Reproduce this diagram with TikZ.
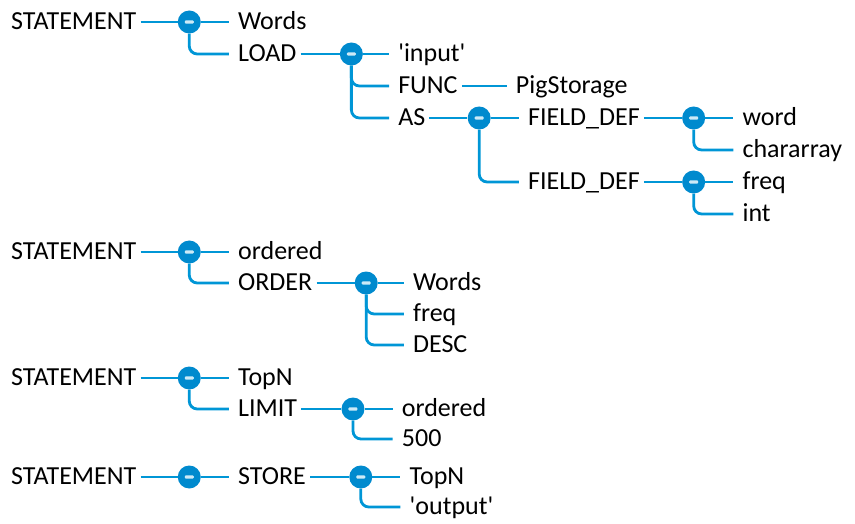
\documentclass[tikz,border=0pt]{standalone}
\usepackage{fontspec}
\setmainfont{Carlito}
\usetikzlibrary{positioning}

\definecolor{hpblue}{RGB}{0,150,214}
\definecolor{knotblue}{RGB}{0,138,206}

\tikzset{
  lbl/.style={anchor=west, inner sep=0pt, text height=19pt, text depth=4pt,
    font=\fontsize{26}{30}\selectfont},
  knot/.style={circle, fill=knotblue, minimum size=23pt, inner sep=0pt,
    path picture={\fill[white!80!hpblue, rounded corners=1pt]
      ([shift={(-4.5pt,-1.6pt)}]path picture bounding box.center) rectangle
      ([shift={(4.5pt,1.6pt)}]path picture bounding box.center);}},
  branch/.style={hpblue, line width=2.8pt, rounded corners=8pt},
  lead/.style={shorten <=4pt},
  tail/.style={shorten >=9pt}
}

\begin{document}
\begin{tikzpicture}[x=1pt, y=-1pt]
    \useasboundingbox (0,0) rectangle (855,524);

    % LOAD statement
    \node[lbl] (st1) at (11,22) {STATEMENT};
    \node[knot, right=41pt of st1] (k1) {};
    \node[lbl, right=37pt of k1] (words1) {Words};
    \node[lbl, below=32pt of words1.west, anchor=west] (load) {LOAD};
    \node[knot, right=43pt of load] (k2) {};
    \node[lbl, right=35pt of k2] (input) {\textquotesingle input\textquotesingle};
    \node[lbl, below=32pt of input.west, anchor=west] (func) {FUNC};
    \node[lbl, right=58pt of func] (pig) {PigStorage};
    \node[lbl, below=32pt of func.west, anchor=west] (as) {AS};
    \node[knot, right=42pt of as] (k3) {};
    \node[lbl, right=37pt of k3] (fdef1) {FIELD\_DEF};
    \node[lbl, below=64pt of fdef1.west, anchor=west] (fdef2) {FIELD\_DEF};
    \node[knot, right=42pt of fdef1] (k4) {};
    \node[lbl, right=37pt of k4] (word) {word};
    \node[lbl, below=32pt of word.west, anchor=west] (chararr) {chararray};
    \node[knot, right=42pt of fdef2] (k5) {};
    \node[lbl, right=37pt of k5] (freq1) {freq};
    \node[lbl, below=32pt of freq1.west, anchor=west] (int) {int};

    \draw[branch, lead] (st1.east) -- (k1);
    \draw[branch, tail] (k1) -- (words1.west);
    \draw[branch, tail] (k1) |- (load.west);
    \draw[branch, lead] (load.east) -- (k2);
    \draw[branch, tail] (k2) -- (input.west);
    \draw[branch, tail] (k2) |- (func.west);
    \draw[branch, tail] (k2) |- (as.west);
    \draw[branch, lead, tail] (func.east) -- (pig.west);
    \draw[branch, lead] (as.east) -- (k3);
    \draw[branch, tail] (k3) -- (fdef1.west);
    \draw[branch, tail] (k3) |- (fdef2.west);
    \draw[branch, lead] (fdef1.east) -- (k4);
    \draw[branch, tail] (k4) -- (word.west);
    \draw[branch, tail] (k4) |- (chararr.west);
    \draw[branch, lead] (fdef2.east) -- (k5);
    \draw[branch, tail] (k5) -- (freq1.west);
    \draw[branch, tail] (k5) |- (int.west);

    % ORDER statement
    \node[lbl] (st2) at (11,252) {STATEMENT};
    \node[knot, right=41pt of st2] (k6) {};
    \node[lbl, right=37pt of k6] (ordered1) {ordered};
    \node[lbl, below=31pt of ordered1.west, anchor=west] (order) {ORDER};
    \node[knot, right=42pt of order] (k7) {};
    \node[lbl, right=35pt of k7] (words2) {Words};
    \node[lbl, below=31pt of words2.west, anchor=west] (freq2) {freq};
    \node[lbl, below=31pt of freq2.west, anchor=west] (desc) {DESC};

    \draw[branch, lead] (st2.east) -- (k6);
    \draw[branch, tail] (k6) -- (ordered1.west);
    \draw[branch, tail] (k6) |- (order.west);
    \draw[branch, lead] (order.east) -- (k7);
    \draw[branch, tail] (k7) -- (words2.west);
    \draw[branch, tail] (k7) |- (freq2.west);
    \draw[branch, tail] (k7) |- (desc.west);

    % LIMIT statement
    \node[lbl] (st3) at (11,378) {STATEMENT};
    \node[knot, right=41pt of st3] (k8) {};
    \node[lbl, right=37pt of k8] (topn1) {TopN};
    \node[lbl, below=31pt of topn1.west, anchor=west] (limit) {LIMIT};
    \node[knot, right=44pt of limit] (k9) {};
    \node[lbl, right=37pt of k9] (ordered2) {ordered};
    \node[lbl, below=30pt of ordered2.west, anchor=west] (num) {500};

    \draw[branch, lead] (st3.east) -- (k8);
    \draw[branch, tail] (k8) -- (topn1.west);
    \draw[branch, tail] (k8) |- (limit.west);
    \draw[branch, lead] (limit.east) -- (k9);
    \draw[branch, tail] (k9) -- (ordered2.west);
    \draw[branch, tail] (k9) |- (num.west);

    % STORE statement
    \node[lbl] (st4) at (11,477) {STATEMENT};
    \node[knot, right=41pt of st4] (k10) {};
    \node[lbl, right=37pt of k10] (store) {STORE};
    \node[knot, right=43pt of store] (k11) {};
    \node[lbl, right=37pt of k11] (topn2) {TopN};
    \node[lbl, below=30pt of topn2.west, anchor=west] (output) {\textquotesingle output\textquotesingle};

    \draw[branch, lead] (st4.east) -- (k10);
    \draw[branch, tail] (k10) -- (store.west);
    \draw[branch, lead] (store.east) -- (k11);
    \draw[branch, tail] (k11) -- (topn2.west);
    \draw[branch, tail] (k11) |- (output.west);
\end{tikzpicture}
\end{document}
